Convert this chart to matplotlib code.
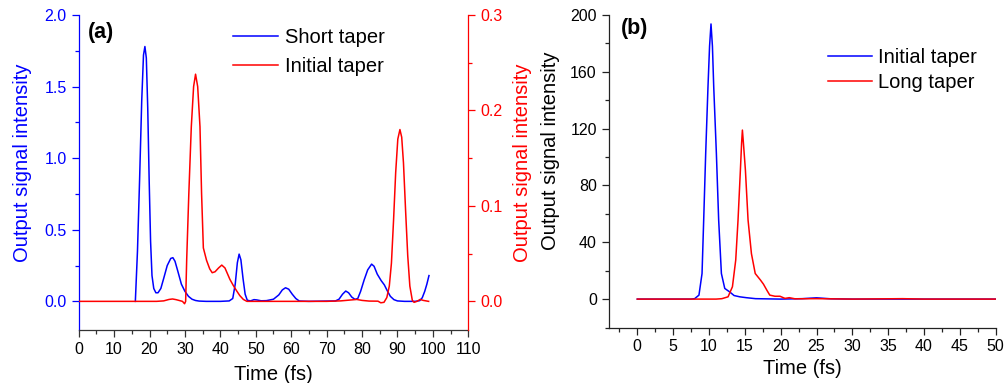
import numpy as np
import matplotlib.pyplot as plt
from matplotlib.ticker import MultipleLocator

plt.rcParams['font.family'] = ['Liberation Sans', 'DejaVu Sans']

#%% (a) short taper vs initial taper, time in fs
t_short = [16.0, 16.6, 17.2, 17.8, 18.3, 18.7, 19.1, 19.5, 19.9, 20.3, 20.7,
           21.2, 21.8, 22.4, 23.2, 24.0, 25.0, 26.0, 26.6, 27.2, 28.0, 29.0,
           30.0, 31.0, 32.0, 33.0, 34.0, 36.0, 40.0, 42.5, 43.5, 44.2, 44.8,
           45.3, 45.8, 46.4, 47.0, 47.6, 48.5, 49.5, 50.3, 51.5, 53.0, 55.0,
           56.5, 57.5, 58.4, 59.3, 60.3, 61.3, 62.3, 65.0, 72.5, 73.5, 74.5,
           75.4, 76.2, 77.1, 78.0, 78.8, 79.6, 80.6, 81.6, 82.7, 83.4, 84.3,
           85.4, 86.3, 87.1, 88.0, 89.0, 90.0, 92.0, 95.0, 96.3, 97.0, 97.7,
           98.3, 98.9]
i_short = [0.0, 0.35, 0.85, 1.40, 1.72, 1.78, 1.70, 1.35, 0.85, 0.42, 0.18,
           0.09, 0.06, 0.06, 0.09, 0.16, 0.25, 0.30, 0.305, 0.28, 0.21, 0.12,
           0.07, 0.035, 0.015, 0.006, 0.002, 0.0, 0.0, 0.003, 0.02, 0.12, 0.27,
           0.33, 0.29, 0.16, 0.05, 0.008, 0.003, 0.012, 0.010, 0.004, 0.005,
           0.015, 0.045, 0.08, 0.095, 0.085, 0.05, 0.02, 0.002, 0.0, 0.003,
           0.015, 0.05, 0.072, 0.06, 0.03, 0.014, 0.02, 0.07, 0.15, 0.22, 0.26,
           0.245, 0.19, 0.145, 0.115, 0.075, 0.035, 0.012, 0.003, 0.0, 0.0,
           0.005, 0.025, 0.07, 0.12, 0.18]

t_init_a = [0.0, 22.0, 24.0, 25.5, 26.5, 27.5, 28.5, 29.3, 29.9, 30.2, 30.5,
            31.1, 31.8, 32.45, 33.0, 33.6, 34.25, 34.7, 35.2, 36.1, 37.0,
            37.7, 38.5, 39.5, 40.4, 41.3, 42.0, 42.7, 43.6, 44.6, 45.5, 46.5,
            47.5, 70.0, 74.0, 77.0, 78.5, 80.0, 82.0, 84.5, 85.3, 86.2, 87.0,
            87.7, 88.3, 88.9, 89.5, 90.1, 90.7, 91.2, 91.7, 92.3, 92.9, 93.5,
            94.2, 94.7, 95.5, 96.4, 97.3, 98.8]
i_init_a = [0.0, 0.0, 0.0005, 0.002, 0.0025, 0.0018, 0.0008, 0.0, -0.0025,
            0.0, 0.044, 0.113, 0.183, 0.225, 0.238, 0.225, 0.183, 0.113, 0.056,
            0.043, 0.034, 0.030, 0.031, 0.035, 0.038, 0.035, 0.029, 0.023,
            0.017, 0.011, 0.006, 0.002, 0.0, 0.0, 0.0005, 0.0015, 0.002, 0.001,
            0.0003, 0.0002, -0.0015, -0.001, 0.004, 0.016, 0.04, 0.085, 0.135,
            0.170, 0.180, 0.172, 0.145, 0.095, 0.048, 0.016, 0.001, -0.001,
            0.0, 0.002, 0.001, 0.0]

#%% (b) initial taper vs long taper
t_init_b = [0.0, 7.5, 8.0, 8.6, 9.03, 9.26, 9.54, 9.86, 10.08, 10.28, 10.48,
            10.66, 11.03, 11.35, 11.73, 12.2, 12.9, 13.5, 14.3, 15.2, 16.5,
            20.0, 23.0, 25.0, 27.0, 30.0, 50.0]
i_init_b = [0.0, 0.0, 0.3, 2.8, 18.0, 55.6, 102.6, 149.5, 178.0, 193.7, 178.0,
            149.5, 102.6, 55.6, 18.0, 7.5, 5.0, 2.5, 1.6, 1.0, 0.3,
            0.0, 0.3, 0.9, 0.2, 0.0, 0.0]

t_long = [0.0, 11.0, 11.8, 12.66, 13.27, 13.73, 14.05, 14.38, 14.55, 14.66,
          14.8, 15.08, 15.45, 15.92, 16.45, 17.18, 17.6, 18.1, 18.48, 19.2,
          19.9, 20.6, 21.2, 22.0, 25.0, 30.0, 37.0, 40.0, 50.0]
i_long = [0.0, 0.0, 0.3, 1.6, 8.7, 27.5, 55.6, 90.8, 110.0, 119.0,
          110.0, 90.8, 55.6, 32.0, 18.0, 13.4, 10.5, 6.0, 2.8, 2.0,
          2.0, 0.5, 1.0, 0.2, 0.3, 0.0, 0.3, 0.0, 0.0]

tick_fs = 11.5
label_fs = 14.5

fig = plt.figure(figsize=(10.06, 3.83), dpi=100)

#%% panel (a)
ax1 = fig.add_axes([0.0782, 0.1384, 0.3873, 0.8224])
ax1r = ax1.twinx()

l1, = ax1.plot(t_short, i_short, color='blue', lw=1.1, label='Short taper')
l2, = ax1r.plot(t_init_a, i_init_a, color='red', lw=1.1, label='Initial taper')

ax1.set_xlim(0, 110)
ax1.set_ylim(-0.2, 2.0)
ax1r.set_ylim(-0.03, 0.3)
ax1.xaxis.set_major_locator(MultipleLocator(10))
ax1.xaxis.set_minor_locator(MultipleLocator(5))
ax1.yaxis.set_major_locator(MultipleLocator(0.5))
ax1.yaxis.set_minor_locator(MultipleLocator(0.25))
ax1r.yaxis.set_major_locator(MultipleLocator(0.1))
ax1r.yaxis.set_minor_locator(MultipleLocator(0.05))
ax1.yaxis.set_major_formatter(lambda v, p: f'{v:.1f}')
ax1r.yaxis.set_major_formatter(lambda v, p: f'{v:.1f}')

for a in (ax1, ax1r):
    a.spines['top'].set_visible(False)
    for s in a.spines.values():
        s.set_linewidth(0.9)
ax1r.spines['left'].set_visible(False)
ax1r.spines['bottom'].set_visible(False)
ax1.spines['right'].set_visible(False)
ax1.spines['left'].set_color('blue')
ax1r.spines['right'].set_color('red')
ax1.spines['bottom'].set_color('#333333')

ax1.tick_params(axis='both', which='both', direction='out', width=0.9,
                labelsize=tick_fs)
ax1.tick_params(which='major', length=5)
ax1.tick_params(which='minor', length=3)
ax1.tick_params(axis='y', which='both', colors='blue')
ax1.tick_params(axis='x', which='both', colors='#333333', labelcolor='black')
ax1r.tick_params(axis='y', which='both', direction='out', width=0.9,
                 colors='red', labelsize=tick_fs)
ax1r.tick_params(which='major', length=5)
ax1r.tick_params(which='minor', length=3)

ax1.set_xlabel('Time (fs)', fontsize=label_fs)
ax1.xaxis.set_label_coords(0.5, -0.11)
ax1.set_ylabel('Output signal intensity', fontsize=label_fs, color='blue')
ax1.yaxis.set_label_coords(-0.12, 0.532)
ax1r.set_ylabel('Output signal intensity', fontsize=label_fs, color='red')
ax1r.yaxis.set_label_coords(1.115, 0.532)

ax1.text(0.024, 0.943, '(a)', transform=ax1.transAxes, fontsize=15.5,
         fontweight='bold', va='center', ha='left')
ax1r.legend([l1, l2], ['Short taper', 'Initial taper'], loc='upper left',
            bbox_to_anchor=(0.396, 0.96), frameon=False, fontsize=label_fs,
            borderpad=0, borderaxespad=0, handlelength=2.25,
            handletextpad=0.35, labelspacing=0.5)

#%% panel (b)
ax2 = fig.add_axes([0.605, 0.1449, 0.3848, 0.8159])

ax2.plot(t_init_b, i_init_b, color='blue', lw=1.1, label='Initial taper')
ax2.plot(t_long, i_long, color='red', lw=1.1, label='Long taper')

ax2.set_xlim(-4, 50)
ax2.set_ylim(-20, 200)
ax2.xaxis.set_major_locator(MultipleLocator(5))
ax2.xaxis.set_minor_locator(MultipleLocator(2.5))
ax2.yaxis.set_major_locator(MultipleLocator(40))
ax2.yaxis.set_minor_locator(MultipleLocator(20))
ax2.spines['top'].set_visible(False)
ax2.spines['right'].set_visible(False)
for s in ax2.spines.values():
    s.set_linewidth(0.9)
    s.set_color('#222222')
ax2.tick_params(axis='both', which='both', direction='out', width=0.9,
                labelsize=tick_fs, colors='#222222', labelcolor='black')
ax2.tick_params(which='major', length=5)
ax2.tick_params(which='minor', length=3)

ax2.set_xlabel('Time (fs)', fontsize=label_fs)
ax2.xaxis.set_label_coords(0.5, -0.10)
ax2.set_ylabel('Output signal intensity', fontsize=label_fs)
ax2.yaxis.set_label_coords(-0.126, 0.565)

ax2.text(0.032, 0.958, '(b)', transform=ax2.transAxes, fontsize=15.5,
         fontweight='bold', va='center', ha='left')
ax2.legend(loc='upper left', bbox_to_anchor=(0.567, 0.895), frameon=False,
           fontsize=label_fs, borderpad=0, borderaxespad=0, handlelength=2.2,
           handletextpad=0.3, labelspacing=0.3)

fig.savefig('out.png', dpi=100)
